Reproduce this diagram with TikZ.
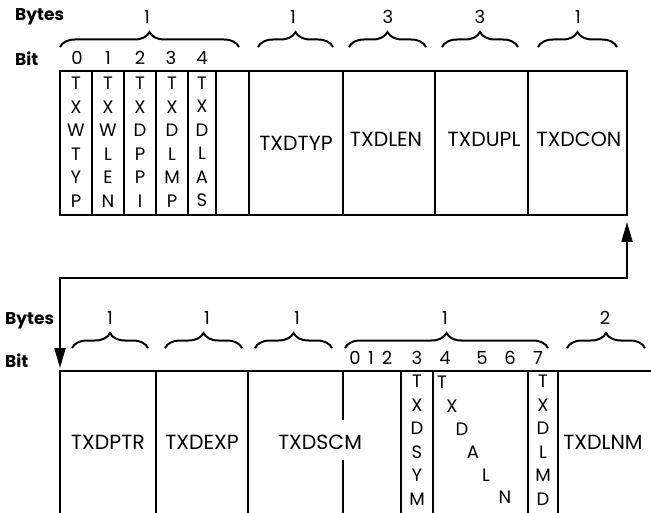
\documentclass[tikz,border=0pt]{standalone}
\usepackage{fontspec}
\setmainfont{Poppins}
\usetikzlibrary{arrows.meta,decorations.pathreplacing}
\begin{document}
\begin{tikzpicture}[x=1pt,y=-1pt,
  blk/.style={line width=2.2pt},
  lab/.style={font=\fontsize{20.5}{20.5}\selectfont, inner sep=0},
  vert/.style={font=\fontsize{18}{23.5}\selectfont, align=center, inner sep=0},
  letter/.style={font=\fontsize{18}{18}\selectfont, inner sep=0},
  num/.style={font=\fontsize{18}{18}\selectfont, inner sep=0},
  hdr/.style={font=\fontsize{17}{17}\selectfont\bfseries, anchor=west, inner sep=0},
  br/.style={decorate, decoration={brace, amplitude=15pt}, line width=2pt},
  conn/.style={line width=2.2pt, {Triangle[length=20pt,width=11pt]}-{Triangle[length=20pt,width=11pt]}},
]
\useasboundingbox (0,0) rectangle (651,513);

% ---------- top record ----------
\node[hdr] (bytesA) at (15,17) {Bytes};
\node[hdr] (bitA) at (15,59) {Bit};

\draw[br] (60,47) -- (239,47);
\draw[br] (258,47) -- (333,47);
\draw[br] (349,47) -- (426,47);
\draw[br] (442,47) -- (518,47);
\draw[br] (538,47) -- (617,47);
\node[num] (nA1) at (147,17) {1};
\node[num] (nA2) at (293,17) {1};
\node[num] (nA3) at (388,17) {3};
\node[num] (nA4) at (480,17) {3};
\node[num] (nA5) at (578,17) {1};

\node[num] (b0) at (77,58) {0};
\node[num] (b1) at (108,58) {1};
\node[num] (b2) at (140,58) {2};
\node[num] (b3) at (171,58) {3};
\node[num] (b4) at (202,58) {4};

\draw[blk] (60,71) rectangle (627,215);
\foreach \x in {92,124,156,188,216,249,343,435,528}
  \draw[blk] (\x,71) -- (\x,215);

\node[vert] (txwtyp) at (76,142) {T\\X\\W\\T\\Y\\P};
\node[vert] (txwlen) at (108,142) {T\\X\\W\\L\\E\\N};
\node[vert] (txdppi) at (140,142) {T\\X\\D\\P\\P\\I};
\node[vert] (txdlmp) at (172,142) {T\\X\\D\\L\\M\\P};
\node[vert] (txdlas) at (202,142) {T\\X\\D\\L\\A\\S};

\node[lab] (txdtyp) at (296,143) {TXDTYP};
\node[lab] (txdlen) at (386,139) {TXDLEN};
\node[lab] (txdupl) at (484,139) {TXDUPL};
\node[lab] (txdcon) at (579,139) {TXDCON};

% ---------- connector ----------
\coordinate (upTip) at (627,222);
\coordinate (cR) at (627,278);
\coordinate (cL) at (60,278);
\coordinate (downTip) at (60,368);
\draw[conn] (upTip) -- (cR) -- (cL) -- (downTip);

% ---------- bottom record ----------
\node[hdr] (bytesB) at (5,321) {Bytes};
\node[hdr] (bitB) at (5,361) {Bit};

\draw[br] (72,348) -- (148,348);
\draw[br] (165,348) -- (242,348);
\draw[br] (255,348) -- (332,348);
\draw[br] (345,348) -- (548,348);
\draw[br] (567,348) -- (645,348);
\node[num] (nB1) at (110,318) {1};
\node[num] (nB2) at (207,318) {1};
\node[num] (nB3) at (297,318) {1};
\node[num] (nB4) at (445,318) {1};
\node[num] (nB5) at (605,318) {2};

\node[num] (c0) at (355,358) {0};
\node[num] (c1) at (371,358) {1};
\node[num] (c2) at (387,358) {2};
\node[num] (c3) at (417,358) {3};
\node[num] (c4) at (445,358) {4};
\node[num] (c5) at (482,358) {5};
\node[num] (c6) at (510,358) {6};
\node[num] (c7) at (538,358) {7};

\draw[blk] (60,513) -- (60,371) -- (651,371);
\foreach \x in {156,248,401,433,528,558}
  \draw[blk] (\x,371) -- (\x,513);
\draw[blk] (343,371) -- (343,420);
\draw[blk] (343,460) -- (343,513);

\node[lab] (txdptr) at (108,442) {TXDPTR};
\node[lab] (txdexp) at (202,442) {TXDEXP};
\node[lab] (txdscm) at (320,442) {TXDSCM};
\node[lab] (txdlnm) at (603,442) {TXDLNM};

\node[vert] (txdsym) at (417,440) {T\\X\\D\\S\\Y\\M};
\node[vert] (txdlmd) at (543,440) {T\\X\\D\\L\\M\\D};

\node[letter] (aT) at (442,382) {T};
\node[letter] (aX) at (452,406) {X};
\node[letter] (aD) at (462,429) {D};
\node[letter] (aA) at (473,452) {A};
\node[letter] (aL) at (486,475) {L};
\node[letter] (aN) at (505,497) {N};
\end{tikzpicture}
\end{document}
